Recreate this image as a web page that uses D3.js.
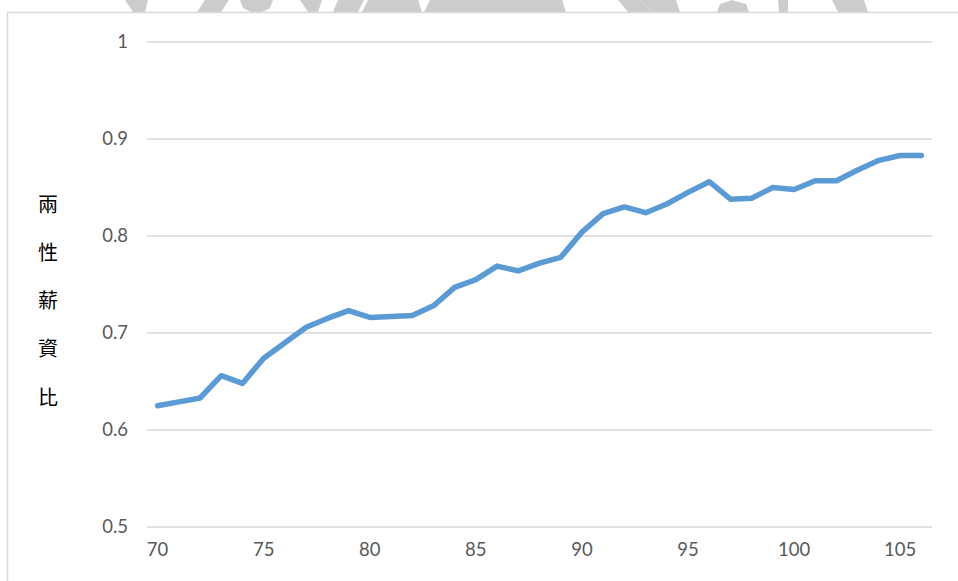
<!DOCTYPE html>
<html>
<head>
<meta charset="utf-8">
<script src="https://cdn.jsdelivr.net/npm/d3@7"></script>
<style>
  html, body { margin: 0; padding: 0; background: #fff; }
  svg { display: block; }
</style>
</head>
<body>
<svg id="chart" width="958" height="581"></svg>
<script>
// Years (ROC calendar) on the category axis
const years = d3.range(70, 107);
// Female-to-male wage ratio per year
const ratio = [
  0.625, 0.629, 0.633, 0.656, 0.648, 0.674, 0.690, 0.706, 0.715, 0.723,
  0.716, 0.717, 0.718, 0.728, 0.747, 0.755, 0.769, 0.764, 0.772, 0.778,
  0.804, 0.823, 0.830, 0.824, 0.833, 0.845, 0.856, 0.838, 0.839, 0.850,
  0.848, 0.857, 0.857, 0.868, 0.878, 0.883, 0.883
];
const xTickLabels = [70, 75, 80, 85, 90, 95, 100, 105];
const yTicks = [0.5, 0.6, 0.7, 0.8, 0.9, 1];
const yTitle = ["兩", "性", "薪", "資", "比"];

const svg = d3.select("#chart");

// Faint logo strip along the top edge
const wm = svg.append("g").attr("fill", "#cccccc");
const wmShapes = [
  [[125,0],[148,0],[145,12],[133,12]],
  [[205,0],[229,0],[221,12],[197,12]],
  [[240,0],[273,0],[270,8],[262,12],[251,12],[243,8]],
  [[300,0],[322,0],[318,12],[308,12]],
  [[338,0],[364,0],[358,12],[333,12]],
  [[368,0],[418,0],[422,12],[362,12]],
  [[430,0],[562,0],[566,12],[424,12]],
  [[618,0],[640,0],[652,12],[628,12]],
  [[640,0],[676,0],[680,12],[652,12]],
  [[720,4],[732,0],[746,4],[749,12],[717,12]],
  [[778,0],[788,0],[788,12],[779,12]],
  [[832,0],[864,0],[868,12],[838,12]]
];
wm.selectAll("path").data(wmShapes).join("path")
  .attr("d", d => "M" + d.map(p => p.join(",")).join("L") + "Z");

// Chart frame (top and left edges visible)
svg.append("path")
  .attr("d", "M7.5,581 L7.5,12.5 L958,12.5")
  .attr("fill", "none")
  .attr("stroke", "#d9d9d9")
  .attr("stroke-width", 1.5);

const plot = { left: 147, right: 932, top: 42, bottom: 527 };

const x = d3.scaleBand()
  .domain(years)
  .range([plot.left, plot.right]);

const y = d3.scaleLinear()
  .domain([0.5, 1])
  .range([plot.bottom, plot.top]);

// Horizontal gridlines
svg.append("g")
  .selectAll("line").data(yTicks).join("line")
  .attr("x1", plot.left).attr("x2", plot.right)
  .attr("y1", d => y(d)).attr("y2", d => y(d))
  .attr("stroke", "#d9d9d9")
  .attr("stroke-width", 1.5);

const labelFont = "Lato, 'Open Sans', sans-serif";

// Y axis labels
const yAxis = d3.axisLeft(y).tickValues(yTicks).tickSize(0).tickPadding(0)
  .tickFormat(d => d === 1 ? "1" : d3.format(".1f")(d));
svg.append("g")
  .attr("transform", `translate(${plot.left - 19},0)`)
  .call(yAxis)
  .call(g => g.select(".domain").remove())
  .call(g => g.selectAll("text")
    .attr("fill", "#595959")
    .attr("font-family", labelFont)
    .attr("font-size", 18.5));

// X axis labels (every fifth year)
const xAxis = d3.axisBottom(x).tickValues(xTickLabels).tickSize(0).tickPadding(0);
svg.append("g")
  .attr("transform", `translate(0,${plot.bottom + 16})`)
  .call(xAxis)
  .call(g => g.select(".domain").remove())
  .call(g => g.selectAll("text")
    .attr("fill", "#595959")
    .attr("font-family", labelFont)
    .attr("font-size", 18.5));

// Vertical y-axis title, one character per line
svg.append("g")
  .selectAll("text").data(yTitle).join("text")
  .attr("x", 48)
  .attr("y", (d, i) => 203 + i * 48.3)
  .attr("text-anchor", "middle")
  .attr("dominant-baseline", "central")
  .attr("font-family", "'Noto Sans CJK TC', sans-serif")
  .attr("font-size", 20)
  .attr("fill", "#000")
  .text(d => d);

// Ratio line
const line = d3.line()
  .x((d, i) => x(years[i]) + x.bandwidth() / 2)
  .y(d => y(d));

svg.append("path")
  .datum(ratio)
  .attr("d", line)
  .attr("fill", "none")
  .attr("stroke", "#5b9bd5")
  .attr("stroke-width", 5.5)
  .attr("stroke-linejoin", "round")
  .attr("stroke-linecap", "round");
</script>
</body>
</html>
